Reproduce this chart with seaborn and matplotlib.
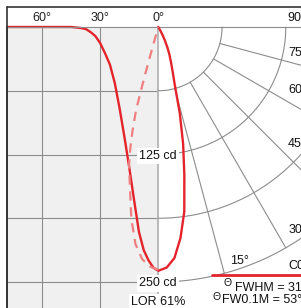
import numpy as np
import matplotlib
matplotlib.use("Agg")
import matplotlib.pyplot as plt
from matplotlib.lines import Line2D
import seaborn as sns

# ---------------- data ----------------
# Cartesian diagram (left panel): intensity [cd] vs. angle [deg]
cart_angle = [0, 2.5, 5, 7.5, 10, 12.5, 15, 17.5, 20, 22.5, 25, 27.5, 30, 32.5, 35, 37.5, 40, 45, 60, 78]
cart_cd = [239, 236, 229, 219, 201, 170, 138, 108, 80, 55, 37, 26, 16, 9, 5, 2, 1, 0, 0, 0]

# Polar diagram, solid plane (drawn on the right half)
c0_angle = [0, 2, 4, 6, 8, 10, 12, 14, 16, 18, 20, 22, 24, 26, 28, 30, 35, 90]
c0_cd = [239, 236, 227, 208, 183, 147, 117, 87, 58, 45, 36, 29, 22, 15, 9, 4, 0, 0]

# Polar diagram, dashed plane (drawn on the left half)
c90_angle = [0, 2, 4, 6, 8, 10, 12, 13, 14, 15, 15.5, 16, 16.5, 90]
c90_cd = [238, 235, 228, 214, 190, 160, 138, 122, 104, 84, 50, 20, 0, 0]

grid_cd = [62.5, 125, 187.5, 250]
radial_deg = [15, 30, 45, 60, 75]
top_ticks = [0, 30, 60]
top_labels = ["0°", "30°", "60°"]
cd_labels = ["125 cd", "250 cd"]
lor_text = "LOR 61%"
fwhm_text = "FWHM = 31°"
fw01_text = "FW0.1M = 53°"
legend_text = "C0-C180"

# ---------------- style ----------------
sns.set_theme(style="white")
plt.rcParams['font.family'] = ['Liberation Sans', 'DejaVu Sans']
FS = 9
RED = '#e3242b'
RED_L = '#ef7f80'
GRID = '#8c8c8c'

W, H = 301, 308
fig = plt.figure(figsize=(W / 100, H / 100), dpi=100)
fig.patch.set_facecolor('white')
CX, CY = 158.3, 27.0          # polar centre in pixels
PX_PER_CD = 255 / 250
LEFT = 7.0
DEG_PX = 58 / 30


def fx(xp):
    return xp / W


def fy(yp):
    return 1 - yp / H


# ---------------- Cartesian panel ----------------
ax_c = fig.add_axes([fx(LEFT), 0, (CX - LEFT) / W, (H - CY) / H])
ax_c.set_facecolor('#eff0ef')
sns.lineplot(x=cart_angle, y=cart_cd, ax=ax_c, color=RED, lw=1.7,
             sort=False, estimator=None)
for ln in ax_c.lines:
    ln.set_clip_on(False)
ax_c.set_xlim((CX - LEFT) / DEG_PX, 0)
ax_c.set_ylim((H - CY) / PX_PER_CD, 0)
ax_c.set_xticks(top_ticks)
ax_c.set_xticklabels(top_labels, fontsize=FS, color='#222')
ax_c.xaxis.tick_top()
ax_c.tick_params(axis='x', length=0, pad=2.2)
ax_c.set_yticks(grid_cd)
ax_c.tick_params(axis='y', left=False, labelleft=False)
ax_c.grid(True, color=GRID, lw=0.8)
ax_c.set_xlabel('')
ax_c.set_ylabel('')
ax_c.spines['left'].set_color('#333333')
ax_c.spines['left'].set_linewidth(1.2)
ax_c.spines['top'].set_color(GRID)
ax_c.spines['top'].set_linewidth(0.8)
ax_c.spines['right'].set_color('#b4b4b4')
ax_c.spines['right'].set_linewidth(1.3)
ax_c.spines['bottom'].set_visible(False)

# ---------------- polar panel ----------------
ax_p = fig.add_axes([0, 0, 1, 1])
ax_p.patch.set_alpha(0)


def P(xp, yp):
    return (xp - CX) / PX_PER_CD, (yp - CY) / PX_PER_CD


t = np.radians(np.linspace(0, 90, 181))
for r in grid_cd:
    ax_p.plot(r * np.sin(t), r * np.cos(t), color=GRID, lw=0.8)
for a in radial_deg:
    ar = np.radians(a)
    rr = np.array([grid_cd[0], grid_cd[-1]])
    ax_p.plot(rr * np.sin(ar), rr * np.cos(ar), color=GRID, lw=0.8)
ax_p.plot([0, P(W, 0)[0]], [0, 0], color=GRID, lw=0.8)

th0 = np.radians(c0_angle)
sns.lineplot(x=np.array(c0_cd) * np.sin(th0), y=np.array(c0_cd) * np.cos(th0),
             ax=ax_p, color=RED, lw=1.7, sort=False, estimator=None)
th9 = np.radians(c90_angle)
sns.lineplot(x=-np.array(c90_cd) * np.sin(th9), y=np.array(c90_cd) * np.cos(th9),
             ax=ax_p, color=RED_L, lw=1.6, sort=False, estimator=None,
             dashes=False)
ax_p.lines[-1].set_linestyle((0, (4.2, 3.0)))

# legend line
lx0, ly = P(211.7, 275)
lx1, _ = P(W + 5, 275)
ax_p.plot([lx0, lx1], [ly, ly], color=RED, lw=2.0)

ax_p.set_xlim(P(0, 0)[0], P(W, 0)[0])
ax_p.set_ylim(P(0, H)[1], P(0, 0)[1])
ax_p.axis('off')

box = dict(boxstyle='square,pad=0.18', fc='white', ec='none')
for lab, r in zip(cd_labels, [125, 250]):
    ax_p.text(0, r + 4.5 / PX_PER_CD, lab, ha='center', va='baseline',
              fontsize=FS, color='#111', bbox=box)
ax_p.text(*P(CX, 305.3), lor_text, ha='center', va='baseline', fontsize=FS,
          color='#111', bbox=box)

# angle labels of the polar grid (cut by the right edge, as in the reference)
for lab, xp, yp in [("75°", 288, 55.7), ("60°", 288, 93.3), ("45°", 288, 146.7),
                    ("30°", 288.5, 233.3), ("15°", 230, 264.3), ("90°", 287, 21)]:
    ax_p.text(*P(xp, yp), lab, ha='left', va='baseline', fontsize=FS, color='#111')

ax_p.text(*P(288.3, 269.3), legend_text, ha='left', va='baseline', fontsize=FS,
          color='#111')

ax_p.text(*P(223.8, 286.5), "Θ", ha='left', va='baseline', fontsize=7.5, color='#111')
ax_p.text(*P(235, 290.7), fwhm_text, ha='left', va='baseline', fontsize=FS, color='#111')
ax_p.text(*P(212.8, 300.5), "Θ", ha='left', va='baseline', fontsize=7.5, color='#111')
ax_p.text(*P(221.7, 303.3), fw01_text, ha='left', va='baseline', fontsize=FS, color='#111')

# outer frame lines (top and left)
fig.add_artist(Line2D([fx(LEFT), fx(LEFT)], [0, fy(7)], color='#333333', lw=1.2))
fig.add_artist(Line2D([fx(LEFT), 1], [fy(7), fy(7)], color='#333333', lw=1.2))

fig.savefig('out.png', dpi=100, facecolor='white')
